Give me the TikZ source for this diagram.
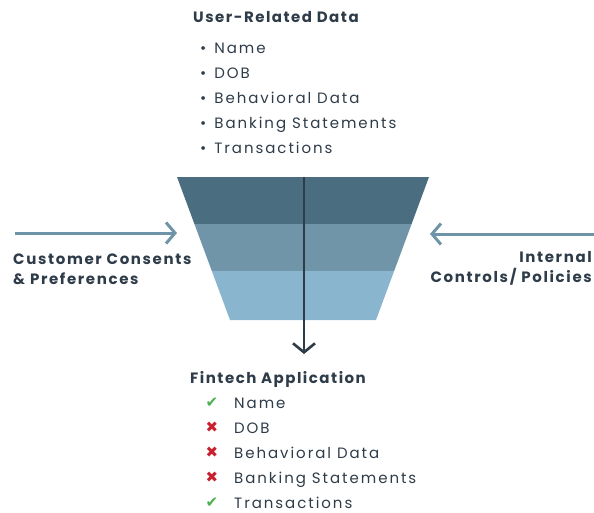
\documentclass[tikz,border=0pt]{standalone}
\usepackage{fontspec}
\setmainfont{Poppins}
\newfontfamily\symfont{DejaVu Sans}
\usetikzlibrary{arrows.meta,calc,positioning}

\definecolor{ink}{HTML}{2E3B48}
\definecolor{bandA}{HTML}{4A6E80}
\definecolor{bandB}{HTML}{7094A8}
\definecolor{bandC}{HTML}{8AB5CE}
\definecolor{sidearrow}{HTML}{6F94A8}
\definecolor{okgreen}{HTML}{4CAF50}
\definecolor{nored}{HTML}{C8202F}

\begin{document}
\begin{tikzpicture}[x=1pt,y=-1pt,
title/.style={anchor=base west, inner sep=0pt, text=ink, font=\fontsize{15}{17}\selectfont\bfseries\addfontfeatures{LetterSpace=10}},
item/.style={anchor=base west, inner sep=0pt, text=ink, font=\fontsize{15}{17}\selectfont\addfontfeatures{LetterSpace=13}},
sidetext/.style={inner sep=0pt, text=ink, font=\fontsize{15}{19.5}\selectfont\bfseries\addfontfeatures{LetterSpace=11}},
tick/.style={anchor=base, inner sep=0pt, font=\fontsize{15}{17}\selectfont\symfont},
flow/.style={line width=2.6pt, draw=ink, -{Straight Barb[length=9pt,width=22pt,line width=2.6pt]}},
feed/.style={line width=3pt, draw=sidearrow, -{Straight Barb[length=9pt,width=21pt,line width=3pt]}}]

\useasboundingbox (0,0) rectangle (594,512);

%% local variables
\def \rowgap {25}

%% funnel corners
\coordinate (F-tl) at (177,177);
\coordinate (F-tr) at (429,177);
\coordinate (F-bl) at (230,320);
\coordinate (F-br) at (376,320);
\coordinate (F-l1) at ($(F-tl)!0.329!(F-bl)$);
\coordinate (F-r1) at ($(F-tr)!0.329!(F-br)$);
\coordinate (F-l2) at ($(F-tl)!0.657!(F-bl)$);
\coordinate (F-r2) at ($(F-tr)!0.657!(F-br)$);

%% funnel bands
\fill[bandA] (F-tl) -- (F-tr) -- (F-r1) -- (F-l1) -- cycle;
\fill[bandB] (F-l1) -- (F-r1) -- (F-r2) -- (F-l2) -- cycle;
\fill[bandC] (F-l2) -- (F-r2) -- (F-br) -- (F-bl) -- cycle;

%% input data
\node[title] (in) at (193,22) {User-Related Data};
\foreach \s/\t in {0/Name, 1/DOB, 2/Behavioral Data, 3/Banking Statements, 4/Transactions}
      \node[item] (I-\s) at (200,{53 + \s * \rowgap}) {\textbullet\hspace{8pt}\t};

%% output data
\node[title] (out) at (190,383) {Fintech Application};
\foreach \s/\t in {0/Name, 1/DOB, 2/Behavioral Data, 3/Banking Statements, 4/Transactions}
      \node[item] (O-\s) at (234,{408 + \s * \rowgap}) {\t};
\foreach \s in {0,4}
      \node[tick, text=okgreen] (M-\s) at (212,{407 + \s * \rowgap}) {✔};
\foreach \s in {1,2,3}
      \node[tick, text=nored] (M-\s) at (212,{407 + \s * \rowgap}) {✖};

%% side inputs
\node[sidetext, anchor=base west, align=left] (consent) at (13,284) {Customer Consents\\\& Preferences};
\node[sidetext, anchor=base east, align=right] (policy) at (592,282) {Internal\\Controls/ Policies};
\coordinate (L-start) at (15,233);
\coordinate (L-end) at (177,233);
\coordinate (R-start) at (594,234);
\coordinate (R-end) at (430,234);
\coordinate (D-start) at (304,177);
\coordinate (D-end) at (304,354);

%% arrows
\draw[feed] (L-start) -- (L-end);
\draw[feed] (R-start) -- (R-end);
\draw[flow] (D-start) -- (D-end);

\end{tikzpicture}
\end{document}
